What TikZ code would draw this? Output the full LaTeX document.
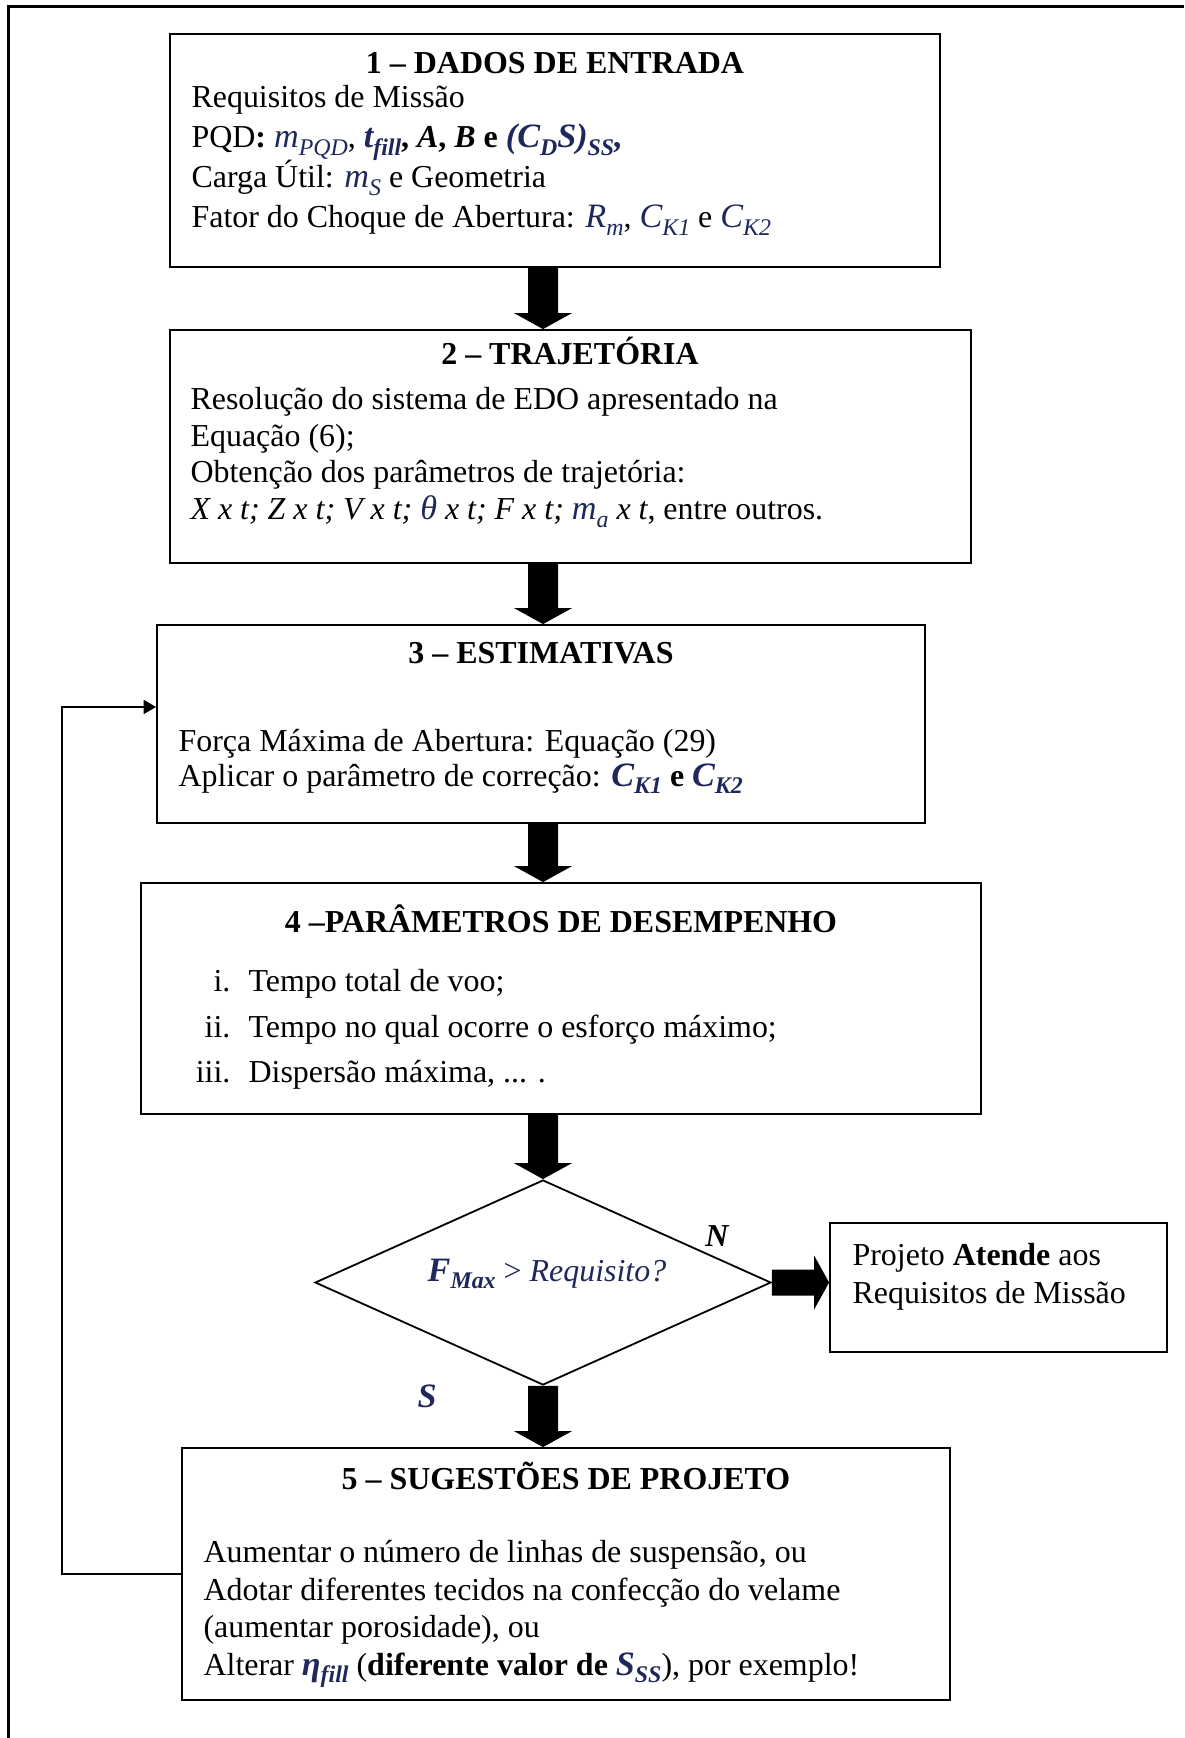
\documentclass[tikz,border=0pt]{standalone}
\usepackage{fontspec}
\setmainfont{Liberation Serif}
\usetikzlibrary{arrows.meta,shapes.geometric,calc}
\definecolor{navy}{RGB}{30,40,90}
\newcommand{\mi}[1]{\textcolor{navy}{\fontsize{12.3}{13}\selectfont\textit{#1}}}
\newcommand{\mbi}[1]{\textcolor{navy}{\fontsize{12.3}{13}\selectfont\textbf{\textit{#1}}}}
\newcommand{\sbs}[1]{\raisebox{-0.22em}{\fontsize{8.6}{9}\selectfont #1}}
\newcommand{\blkdown}[2]{\fill[black] ($(#1)+(-15,0)$) -- ($(#2)+(-15,-16)$) -- ($(#2)+(-29,-16)$) -- (#2) -- ($(#2)+(29,-16)$) -- ($(#2)+(15,-16)$) -- ($(#1)+(15,0)$) -- cycle;}
\newcommand{\blkright}[2]{\fill[black] ($(#1)+(0,-13)$) -- ($(#2)+(-15,-13)$) -- ($(#2)+(-15,-27)$) -- (#2) -- ($(#2)+(-15,27)$) -- ($(#2)+(-15,13)$) -- ($(#1)+(0,13)$) -- cycle;}
\begin{document}
\begin{tikzpicture}[x=0.36pt,y=-0.36pt,
  box/.style={draw,line width=0.65pt,rectangle,inner sep=0pt},
  txt/.style={anchor=base west,inner sep=0pt,font=\fontsize{11.5}{13}\selectfont},
  lbl/.style={anchor=base east,inner sep=0pt,font=\fontsize{11.5}{13}\selectfont},
  ttl/.style={anchor=base,inner sep=0pt,font=\fontsize{11.5}{13}\selectfont\bfseries},
  loopline/.style={line width=0.72pt,-{Triangle[length=4.5pt,width=5pt]}}]
\useasboundingbox (0,0) rectangle (1184,1738);
\draw[line width=1.26pt] (8.5,1738) -- (8.5,6.5) -- (1184,6.5);

% boxes
\node[box,minimum width=277.2pt,minimum height=83.88pt] (b1) at (555,150.5) {};
\node[box,minimum width=288.36pt,minimum height=83.88pt] (b2) at (570.5,446.5) {};
\node[box,minimum width=276.48pt,minimum height=71.28pt] (b3) at (541,724) {};
\node[box,minimum width=302.4pt,minimum height=83.16pt] (b4) at (561,998.5) {};
\node[draw,diamond,line width=0.65pt,inner sep=0pt,minimum width=164.16pt,minimum height=73.8pt] (dia) at (543,1282.5) {};
\node[box,minimum width=121.32pt,minimum height=46.44pt] (ok) at (998.5,1287.5) {};
\node[box,minimum width=276.48pt,minimum height=90.72pt] (b5) at (566,1574) {};

% box 1
\node[ttl] (t1) at (555,74) {1 – DADOS DE ENTRADA};
\node[txt] (l11) at (191,108) {Requisitos de Missão};
\node[txt] (l12) at (191,148) {PQD\textbf{:} \mi{m\sbs{PQD}}, \mbi{t\sbs{fill}}\textbf{, \textit{A}, \textit{B} e} \mbi{(C\sbs{D}S)\sbs{SS},}};
\node[txt] (l13) at (191,188) {Carga Útil: \mi{m\sbs{S}} e Geometria};
\node[txt] (l14) at (191,228) {Fator do Choque de Abertura: \mi{R\sbs{m}}, \mi{C\sbs{K1}} e \mi{C\sbs{K2}}};

% box 2
\node[ttl] (t2) at (570,365) {2 – TRAJETÓRIA};
\node[txt] (l21) at (190,410) {Resolução do sistema de EDO apresentado na};
\node[txt] (l22) at (190,447) {Equação (6);};
\node[txt] (l23) at (190,483) {Obtenção dos parâmetros de trajetória:};
\node[txt] (l24) at (190,520) {\textit{X x t; Z x t; V x t;} \mi{θ} \textit{x t; F x t;} \mi{m\sbs{a}} \textit{x t}, entre outros.};

% box 3
\node[ttl] (t3) at (541,664) {3 – ESTIMATIVAS};
\node[txt] (l31) at (178,751) {Força Máxima de Abertura: Equação (29)};
\node[txt] (l32) at (178,786) {Aplicar o parâmetro de correção: \mbi{C\sbs{K1}} \textbf{e} \mbi{C\sbs{K2}}};

% box 4
\node[ttl] (t4) at (561,932) {4 –PARÂMETROS DE DESEMPENHO};
\node[lbl] (n41) at (231,991) {i.};
\node[txt] (l41) at (248,991) {Tempo total de voo;};
\node[lbl] (n42) at (231,1037) {ii.};
\node[txt] (l42) at (248,1037) {Tempo no qual ocorre o esforço máximo;};
\node[lbl] (n43) at (231,1082) {iii.};
\node[txt] (l43) at (248,1082) {Dispersão máxima, ... .};

% decision
\node[anchor=base,inner sep=0pt,font=\fontsize{11.5}{13}\selectfont] (dt) at (547,1281) {\mbi{F\sbs{Max}} \textcolor{navy}{> \textit{Requisito?}}};
\node[inner sep=0pt,font=\fontsize{11.5}{13}\selectfont\bfseries\itshape] (nlab) at (717,1236) {N};
\node[inner sep=0pt,font=\fontsize{11.5}{13}\selectfont] (slab) at (427,1396) {\mbi{S}};

% result box
\node[txt] (l61) at (852,1265) {Projeto \textbf{Atende} aos};
\node[txt] (l62) at (852,1303) {Requisitos de Missão};

% box 5
\node[ttl] (t5) at (566,1489) {5 – SUGESTÕES DE PROJETO};
\node[txt] (l51) at (203,1562) {Aumentar o número de linhas de suspensão, ou};
\node[txt] (l52) at (203,1600) {Adotar diferentes tecidos na confecção do velame};
\node[txt] (l53) at (203,1637) {(aumentar porosidade), ou};
\node[txt] (l54) at (203,1675) {Alterar \mbi{η\sbs{fill}} (\textbf{diferente valor de} \mbi{S\sbs{SS}}), por exemplo!};

% block arrows
\coordinate (ax) at (543,0);
\coordinate (a1s) at (b1.south -| ax);
\coordinate (a1e) at (b2.north -| ax);
\coordinate (a2s) at (b2.south -| ax);
\coordinate (a2e) at (b3.north -| ax);
\coordinate (a3s) at (b3.south -| ax);
\coordinate (a3e) at (b4.north -| ax);
\coordinate (a4s) at (b4.south -| ax);
\coordinate (a5e) at (b5.north -| ax);
\coordinate (are) at (ok.west |- dia.east);
\blkdown{a1s}{a1e}
\blkdown{a2s}{a2e}
\blkdown{a3s}{a3e}
\blkdown{a4s}{dia.north}
\blkdown{dia.south}{a5e}
\blkright{dia.east}{are}

% loop back
\coordinate (lp) at (62,707);
\draw[loopline] (b5.west) -| (lp) -- (lp -| b3.west);
\end{tikzpicture}
\end{document}
